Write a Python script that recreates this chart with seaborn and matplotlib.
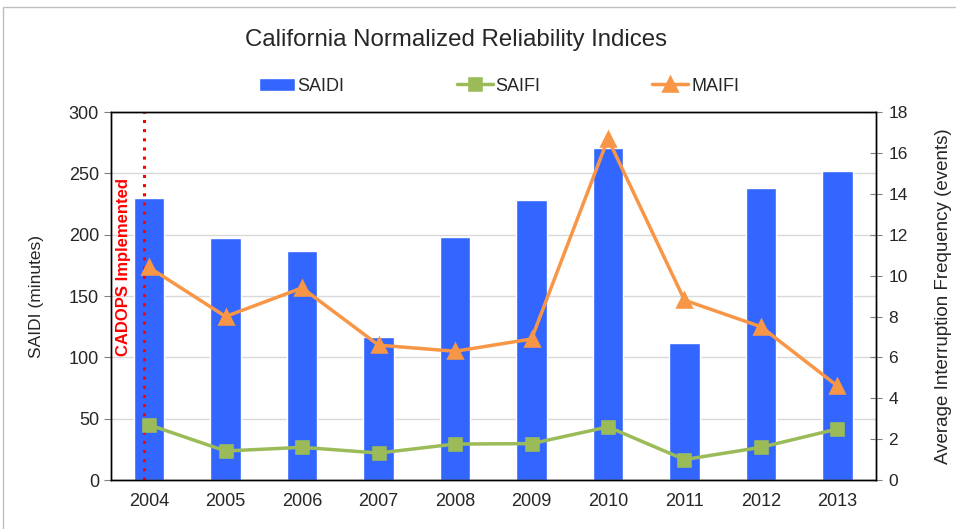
import numpy as np
import pandas as pd
import matplotlib
matplotlib.use("Agg")
import matplotlib.pyplot as plt
import seaborn as sns
from matplotlib.patches import Rectangle

# California normalized reliability indices, 2004-2013
years = ["2004", "2005", "2006", "2007", "2008", "2009", "2010", "2011", "2012", "2013"]
saidi = [230, 197, 187, 117, 198, 228, 271, 112, 238, 252]
saifi = [2.7, 1.42, 1.6, 1.32, 1.76, 1.78, 2.6, 1.0, 1.6, 2.5]
maifi = [10.4, 8.0, 9.4, 6.6, 6.3, 6.9, 16.7, 8.8, 7.5, 4.6]

df = pd.DataFrame({"Year": years, "SAIDI": saidi, "SAIFI": saifi, "MAIFI": maifi})

sns.set_style("white")
plt.rcParams["font.family"] = ["Liberation Sans", "DejaVu Sans"]

fig = plt.figure(figsize=(9.56, 5.29), dpi=100)
ax = fig.add_axes([0.116, 0.0926, 0.8, 0.6954])
ax2 = ax.twinx()

sns.barplot(data=df, x="Year", y="SAIDI", color="#3366FF", width=0.4,
            saturation=1, ax=ax, zorder=2, label="SAIDI")
sns.pointplot(data=df, x="Year", y="SAIFI", color="#9BBB59", markers="s",
              markersize=9, linewidth=2.5, ax=ax2, label="SAIFI")
sns.pointplot(data=df, x="Year", y="MAIFI", color="#F79646", markers="^",
              markersize=10, linewidth=2.5, ax=ax2, label="MAIFI")

ax.set_xlim(-0.5, len(years) - 0.5)
ax.set_ylim(0, 300)
ax.set_yticks(np.arange(0, 301, 50))
ax2.set_ylim(0, 18)
ax2.set_yticks(np.arange(0, 19, 2))

ax.yaxis.grid(True, color="#D9D9D9", linewidth=1)
ax.set_axisbelow(True)
ax.set_xlabel("")
ax.set_ylabel("SAIDI (minutes)", fontsize=12.5, labelpad=18)
ax2.set_ylabel("Average Interruption Frequency (events)", fontsize=13.5, labelpad=20)

# excel-style tick marks between categories
ax.set_xticks(np.arange(-0.5, len(years), 1), minor=True)
ax.tick_params(axis="x", which="major", length=0, labelsize=13, pad=9)
ax.tick_params(axis="x", which="minor", length=5, direction="out", color="#808080")
ax.tick_params(axis="y", length=5, direction="out", labelsize=13, left=True, color="#808080")
ax2.tick_params(axis="y", length=8, direction="inout", labelsize=12.5, right=True,
                color="#808080", pad=5)

for a in (ax, ax2):
    for s in a.spines.values():
        s.set_color("black")
        s.set_linewidth(1)

# CADOPS implementation marker
ax.axvline(-0.07, color="red", linestyle=(0, (1, 2)), linewidth=2.2, zorder=3)
ax.text(-0.34, 174, "CADOPS Implemented", rotation=90, color="red",
        fontsize=12, fontweight="bold", ha="center", va="center")

if ax.get_legend():
    ax.get_legend().remove()
if ax2.get_legend():
    ax2.get_legend().remove()
h1, l1 = ax.get_legend_handles_labels()
h2, l2 = ax2.get_legend_handles_labels()
fig.legend(h1 + h2, l1 + l2, loc="center", bbox_to_anchor=(0.522, 0.837),
           ncol=3, frameon=False, fontsize=13, columnspacing=6.2,
           handlelength=2.0, handletextpad=0.15)

fig.suptitle("California Normalized Reliability Indices", fontsize=17.3,
             y=0.945, x=0.477)

fig.patches.append(Rectangle((0.003, -0.05), 1.1, 1.037, transform=fig.transFigure,
                             fill=False, edgecolor="#BFBFBF", linewidth=1))

fig.savefig("out.png", dpi=100)
